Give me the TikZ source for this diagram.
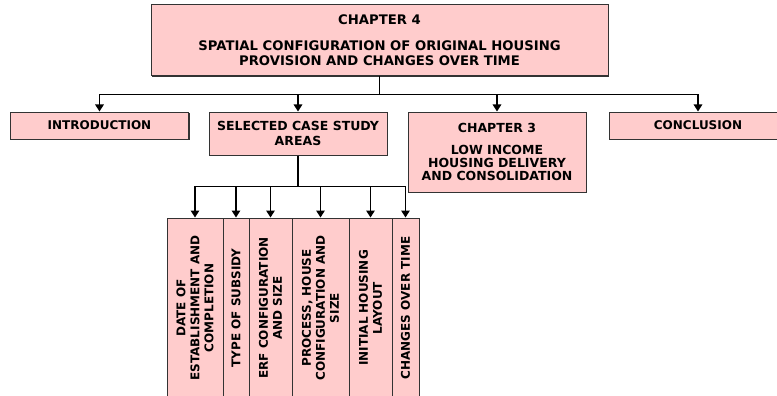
\documentclass[tikz,border=0pt]{standalone}
\usepackage{fontspec}
\setmainfont{DejaVu Sans}
\usetikzlibrary{shadows}
\usetikzlibrary{calc}
\usetikzlibrary{arrows.meta}
\definecolor{boxpink}{RGB}{255,204,204}
\definecolor{boxline}{RGB}{51,51,51}
\tikzset{box/.style={rectangle,fill=boxpink,draw=boxline,line width=1pt,inner sep=2pt,
align=center, font=\fontsize{12}{14}\selectfont\bfseries,
drop shadow={shadow xshift=1.2pt,shadow yshift=-1.2pt,fill=boxline,opacity=1}},
wide/.style={box,minimum width=178pt},
item/.style={box,rotate=90,minimum width=180pt},
conn/.style={color=black,line width=1.4pt},
>={Triangle[length=7pt,width=8.5pt]}}

\begin{document}
\begin{tikzpicture}[x=1pt,y=1pt]
  \useasboundingbox (0,0) rectangle (777,-396);
  \clip (0,0) rectangle (777,-396);
  % chapter level
  \node (top) [box,minimum width=457pt,minimum height=71pt,
    font=\fontsize{13.2}{15}\selectfont\bfseries] at (379.5,-40.5)
    {CHAPTER 4\\[11pt]SPATIAL CONFIGURATION OF ORIGINAL HOUSING\\PROVISION AND CHANGES OVER TIME};
  \node (intro) [wide,minimum height=27pt] at (99.5,-125.5) {INTRODUCTION};
  \node (areas) [wide,minimum height=43pt,
    font=\fontsize{12.5}{15}\selectfont\bfseries] at (298,-133.5) {SELECTED CASE STUDY\\AREAS};
  \node (ch3) [wide,minimum height=80pt,font=\fontsize{12.5}{13}\selectfont\bfseries] at (497,-152)
    {CHAPTER 3\\[9pt]LOW INCOME\\HOUSING DELIVERY\\AND CONSOLIDATION};
  \node (concl) [wide,minimum height=27pt] at (698,-125.5) {CONCLUSION};
  % case study items
  \node (date) [item,minimum height=56pt] at (195,-308) {DATE OF\\ESTABLISHMENT AND\\COMPLETION};
  \node (subsidy) [item,minimum height=26pt] at (236,-308) {TYPE OF SUBSIDY};
  \node (erf) [item,minimum height=43pt] at (270.5,-308) {ERF CONFIGURATION\\AND SIZE};
  \node (house) [item,minimum height=57pt] at (320.5,-308) {PROCESS, HOUSE\\CONFIGURATION AND\\SIZE};
  \node (layout) [item,minimum height=43pt] at (370.5,-308) {INITIAL HOUSING\\LAYOUT};
  \node (changes) [item,minimum height=27pt] at (405.5,-308) {CHANGES OVER TIME};
  % connectors
  \coordinate (bus) at ($(top.south)+(0,-18)$);
  \draw [conn] (top.south) -- (bus);
  \foreach \n in {intro,areas,ch3,concl}
    \draw [conn,->] (bus) -| (\n.north);
  \coordinate (bus2) at ($(areas.south)+(0,-31)$);
  \draw [conn] (areas.south) -- (bus2);
  \foreach \n in {date,subsidy,erf,house,layout,changes}
    \draw [conn,->] (bus2) -| (\n.east);
\end{tikzpicture}
\end{document}
